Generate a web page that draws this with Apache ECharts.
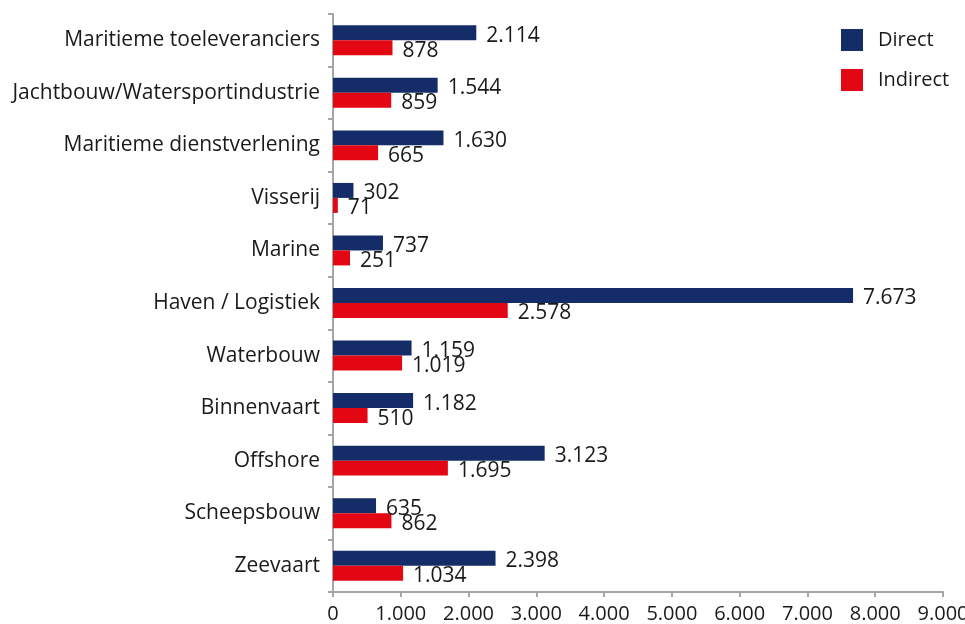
<!DOCTYPE html>
<html>
<head>
<meta charset="utf-8">
<script src="https://cdn.jsdelivr.net/npm/echarts@6/dist/echarts.min.js"></script>
<style>
  html, body { margin: 0; padding: 0; background: #fff; }
  #chart { width: 965px; height: 624px; }
</style>
</head>
<body>
<div id="chart"></div>
<script>
// categorieën (van onder naar boven)
const categories = [
    'Zeevaart',
    'Scheepsbouw',
    'Offshore',
    'Binnenvaart',
    'Waterbouw',
    'Haven / Logistiek',
    'Marine',
    'Visserij',
    'Maritieme dienstverlening',
    'Jachtbouw/Watersportindustrie',
    'Maritieme toeleveranciers'
];
const directValues = [2398, 635, 3123, 1182, 1159, 7673, 737, 302, 1630, 1544, 2114];
const indirectValues = [1034, 862, 1695, 510, 1019, 2578, 251, 71, 665, 859, 878];
const seriesNames = ['Direct', 'Indirect'];

// getal met punt als duizendtalscheiding
function fmt(v) {
    return String(v).replace(/\B(?=(\d{3})+(?!\d))/g, '.');
}

const FONT = '"Open Sans", "Noto Sans", sans-serif';
const TEXT = '#1a1a1a';
const AXIS = '#a6a6a6';

const chart = echarts.init(document.getElementById('chart'));

function valueLabel() {
    return {
        show: true,
        position: 'right',
        distance: 10,
        offset: [0, 3],
        fontSize: 21,
        color: TEXT,
        fontFamily: FONT,
        formatter: p => fmt(p.value)
    };
}

chart.setOption({
    animation: false,
    textStyle: { fontFamily: FONT },
    legend: {
        orient: 'vertical',
        left: 836,
        top: 24,
        itemWidth: 22,
        itemHeight: 22,
        itemGap: 18,
        icon: 'rect',
        textStyle: { fontSize: 20, color: TEXT, fontFamily: FONT, padding: [0, 0, 0, 10] },
        data: seriesNames
    },
    grid: {
        left: 333,
        right: 22,
        top: 14,
        bottom: 32,
        outerBoundsMode: 'none'
    },
    xAxis: {
        type: 'value',
        min: 0,
        max: 9000,
        interval: 1000,
        axisLine: { show: true, lineStyle: { color: AXIS, width: 2 } },
        axisTick: { show: true, length: 5, lineStyle: { color: AXIS, width: 2 } },
        splitLine: { show: false },
        axisLabel: {
            fontSize: 20,
            color: TEXT,
            fontFamily: FONT,
            margin: 12,
            formatter: fmt
        }
    },
    yAxis: {
        type: 'category',
        data: categories,
        axisLine: { show: true, lineStyle: { color: AXIS, width: 2 } },
        axisTick: { show: true, length: 5, lineStyle: { color: AXIS, width: 2 } },
        axisLabel: {
            fontSize: 21,
            color: TEXT,
            fontFamily: FONT,
            margin: 13
        }
    },
    series: [
        {
            name: seriesNames[0],
            type: 'bar',
            data: directValues,
            barGap: '0%',
            barCategoryGap: '43%',
            itemStyle: { color: '#142d69' },
            label: valueLabel()
        },
        {
            name: seriesNames[1],
            type: 'bar',
            data: indirectValues,
            barGap: '0%',
            barCategoryGap: '43%',
            itemStyle: { color: '#e30613' },
            label: valueLabel()
        }
    ]
});
</script>
</body>
</html>
